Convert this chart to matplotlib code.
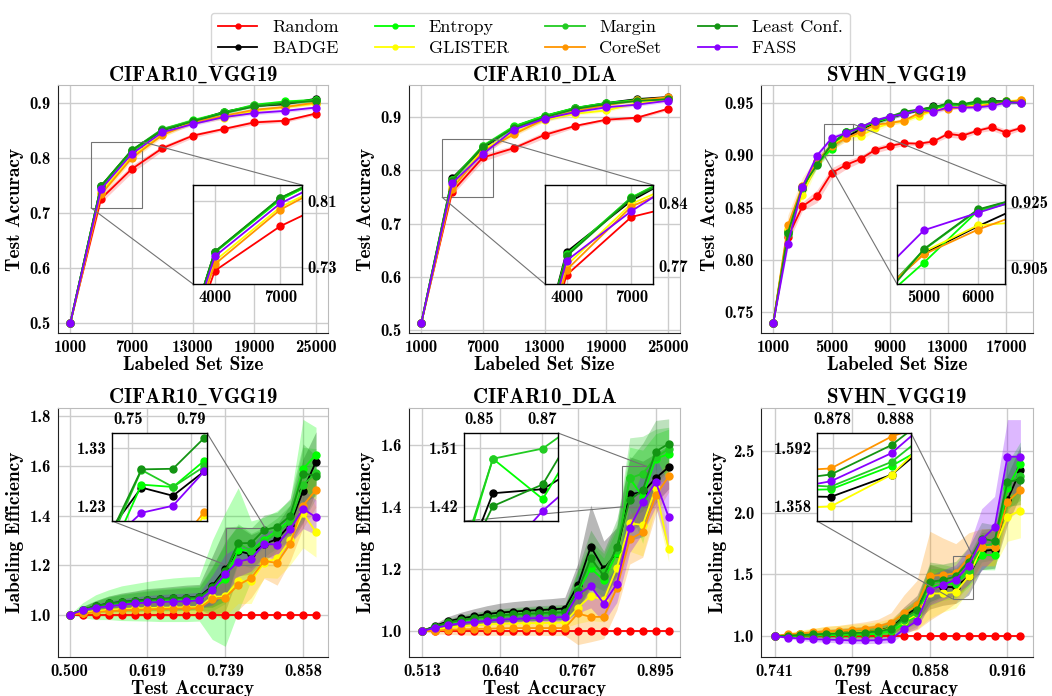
import matplotlib
matplotlib.use("Agg")
import numpy as np
import matplotlib.pyplot as plt
from mpl_toolkits.axes_grid1.inset_locator import mark_inset

plt.rcParams['font.family'] = 'cmb10'
plt.rcParams['mathtext.fontset'] = 'cm'
plt.rcParams['axes.unicode_minus'] = False

W, H = 1052, 696

methods = ["Random", "BADGE", "Entropy", "GLISTER", "Margin", "CoreSet", "Least Conf.", "FASS"]
colors = {"Random": "#ff0000", "BADGE": "#000000", "Entropy": "#00ff00", "GLISTER": "#ffff00",
          "Margin": "#22cc22", "CoreSet": "#ff9500", "Least Conf.": "#139413", "FASS": "#8800ff"}

# ---- test accuracy vs labeled set size ----
sizes_cifar = [1000, 4000, 7000, 10000, 13000, 16000, 19000, 22000, 25000]
sizes_svhn = [1000, 2000, 3000, 4000, 5000, 6000, 7000, 8000, 9000, 10000,
              11000, 12000, 13000, 14000, 15000, 16000, 17000, 18000]

acc_vgg = {
    "Random":      [0.500, 0.726, 0.780, 0.818, 0.841, 0.853, 0.865, 0.868, 0.881],
    "BADGE":       [0.500, 0.749, 0.813, 0.851, 0.867, 0.884, 0.895, 0.898, 0.908],
    "Entropy":     [0.500, 0.748, 0.812, 0.852, 0.869, 0.883, 0.897, 0.903, 0.906],
    "GLISTER":     [0.500, 0.738, 0.803, 0.843, 0.866, 0.873, 0.886, 0.893, 0.899],
    "Margin":      [0.500, 0.749, 0.814, 0.853, 0.868, 0.882, 0.896, 0.901, 0.905],
    "CoreSet":     [0.500, 0.734, 0.800, 0.842, 0.865, 0.877, 0.888, 0.893, 0.901],
    "Least Conf.": [0.500, 0.749, 0.8144, 0.851, 0.867, 0.882, 0.894, 0.900, 0.904],
    "FASS":        [0.500, 0.7435, 0.8076, 0.847, 0.862, 0.8745, 0.882, 0.886, 0.892],
}
acc_vgg_std = {
    "Random":      [0.0, 0.007, 0.007, 0.005, 0.004, 0.003, 0.004, 0.003, 0.003],
    "BADGE":       [0.0, 0.004, 0.004, 0.003, 0.003, 0.002, 0.002, 0.002, 0.002],
    "Entropy":     [0.0, 0.006, 0.005, 0.004, 0.004, 0.003, 0.003, 0.003, 0.003],
    "GLISTER":     [0.0, 0.006, 0.005, 0.004, 0.004, 0.003, 0.003, 0.003, 0.003],
    "Margin":      [0.0, 0.005, 0.004, 0.003, 0.003, 0.003, 0.002, 0.002, 0.002],
    "CoreSet":     [0.0, 0.006, 0.005, 0.004, 0.003, 0.003, 0.003, 0.003, 0.003],
    "Least Conf.": [0.0, 0.005, 0.004, 0.003, 0.003, 0.002, 0.002, 0.002, 0.002],
    "FASS":        [0.0, 0.004, 0.004, 0.003, 0.003, 0.003, 0.003, 0.003, 0.003],
}

acc_dla = {
    "Random":      [0.513, 0.760, 0.8245, 0.842, 0.867, 0.884, 0.8956, 0.8994, 0.916],
    "BADGE":       [0.513, 0.7856, 0.8425, 0.8824, 0.9025, 0.9176, 0.927, 0.9345, 0.9383],
    "Entropy":     [0.513, 0.783, 0.8462, 0.883, 0.903, 0.918, 0.927, 0.933, 0.936],
    "GLISTER":     [0.513, 0.7707, 0.839, 0.871, 0.895, 0.907, 0.913, 0.927, 0.933],
    "Margin":      [0.513, 0.782, 0.846, 0.881, 0.901, 0.917, 0.926, 0.932, 0.935],
    "CoreSet":     [0.513, 0.7657, 0.836, 0.868, 0.897, 0.912, 0.923, 0.932, 0.938],
    "Least Conf.": [0.513, 0.781, 0.845, 0.880, 0.900, 0.916, 0.925, 0.931, 0.934],
    "FASS":        [0.513, 0.776, 0.831, 0.8768, 0.8975, 0.910, 0.919, 0.924, 0.9314],
}
acc_dla_std = {
    "Random":      [0.0, 0.006, 0.007, 0.005, 0.006, 0.003, 0.003, 0.003, 0.003],
    "BADGE":       [0.0, 0.004, 0.004, 0.003, 0.003, 0.002, 0.002, 0.002, 0.002],
    "Entropy":     [0.0, 0.005, 0.005, 0.004, 0.003, 0.003, 0.003, 0.002, 0.002],
    "GLISTER":     [0.0, 0.005, 0.005, 0.004, 0.004, 0.003, 0.003, 0.003, 0.002],
    "Margin":      [0.0, 0.005, 0.004, 0.003, 0.003, 0.003, 0.002, 0.002, 0.002],
    "CoreSet":     [0.0, 0.006, 0.005, 0.004, 0.004, 0.003, 0.003, 0.002, 0.002],
    "Least Conf.": [0.0, 0.005, 0.004, 0.003, 0.003, 0.003, 0.002, 0.002, 0.002],
    "FASS":        [0.0, 0.005, 0.005, 0.004, 0.005, 0.004, 0.003, 0.003, 0.003],
}

acc_svhn = {
    "Random":      [0.740, 0.822, 0.8513, 0.861, 0.8831, 0.891, 0.8967, 0.9054, 0.9092,
                    0.9118, 0.9113, 0.9134, 0.9207, 0.919, 0.9236, 0.927, 0.922, 0.9263],
    "BADGE":       [0.740, 0.828, 0.868, 0.894, 0.9093, 0.9175, 0.925, 0.931, 0.936,
                    0.940, 0.943, 0.947, 0.948, 0.948, 0.951, 0.952, 0.952, 0.952],
    "Entropy":     [0.740, 0.827, 0.869, 0.892, 0.9065, 0.9222, 0.926, 0.932, 0.936,
                    0.941, 0.943, 0.945, 0.948, 0.948, 0.950, 0.951, 0.950, 0.951],
    "GLISTER":     [0.740, 0.830, 0.862, 0.893, 0.9098, 0.9178, 0.919, 0.926, 0.931,
                    0.933, 0.938, 0.943, 0.946, 0.947, 0.948, 0.950, 0.952, 0.953],
    "Margin":      [0.740, 0.825, 0.869, 0.893, 0.9104, 0.9224, 0.927, 0.932, 0.937,
                    0.940, 0.944, 0.946, 0.949, 0.948, 0.950, 0.951, 0.951, 0.952],
    "CoreSet":     [0.740, 0.8331, 0.871, 0.8943, 0.909, 0.9165, 0.9225, 0.9295, 0.931,
                    0.9335, 0.9405, 0.943, 0.9447, 0.946, 0.947, 0.949, 0.951, 0.953],
    "Least Conf.": [0.740, 0.826, 0.870, 0.891, 0.9106, 0.9226, 0.927, 0.933, 0.937,
                    0.942, 0.944, 0.946, 0.950, 0.949, 0.952, 0.951, 0.952, 0.950],
    "FASS":        [0.740, 0.8156, 0.870, 0.8999, 0.9163, 0.9216, 0.9268, 0.9335, 0.9373,
                    0.9395, 0.9443, 0.9417, 0.9462, 0.9459, 0.946, 0.9475, 0.9506, 0.9506],
}
acc_svhn_std = {
    "Random":      [0.0, 0.006, 0.004, 0.006, 0.005, 0.004, 0.003, 0.003, 0.003,
                    0.002, 0.002, 0.002, 0.003, 0.003, 0.002, 0.003, 0.003, 0.002],
    "BADGE":       [0.0, 0.004, 0.004, 0.003, 0.003, 0.002, 0.002, 0.002, 0.002,
                    0.001, 0.001, 0.001, 0.001, 0.001, 0.001, 0.001, 0.001, 0.001],
    "Entropy":     [0.0, 0.005, 0.004, 0.004, 0.003, 0.003, 0.002, 0.002, 0.002,
                    0.002, 0.001, 0.001, 0.001, 0.001, 0.001, 0.001, 0.001, 0.001],
    "GLISTER":     [0.0, 0.006, 0.006, 0.005, 0.004, 0.004, 0.004, 0.003, 0.002,
                    0.002, 0.002, 0.001, 0.001, 0.001, 0.001, 0.001, 0.001, 0.001],
    "Margin":      [0.0, 0.005, 0.004, 0.003, 0.003, 0.002, 0.002, 0.002, 0.002,
                    0.001, 0.001, 0.001, 0.001, 0.001, 0.001, 0.001, 0.001, 0.001],
    "CoreSet":     [0.0, 0.010, 0.008, 0.005, 0.004, 0.003, 0.003, 0.002, 0.002,
                    0.002, 0.002, 0.001, 0.001, 0.001, 0.001, 0.001, 0.001, 0.001],
    "Least Conf.": [0.0, 0.005, 0.004, 0.003, 0.003, 0.002, 0.002, 0.002, 0.002,
                    0.001, 0.001, 0.001, 0.001, 0.001, 0.001, 0.001, 0.001, 0.001],
    "FASS":        [0.0, 0.005, 0.004, 0.003, 0.003, 0.002, 0.002, 0.002, 0.002,
                    0.002, 0.001, 0.002, 0.002, 0.001, 0.002, 0.002, 0.002, 0.001],
}

# ---- labeling efficiency vs test accuracy ----
acc_grid_vgg = [0.5000, 0.5199, 0.5398, 0.5597, 0.5796, 0.5995, 0.6194, 0.6393, 0.6592, 0.6791,
                0.6989, 0.7188, 0.7387, 0.7586, 0.7785, 0.7984, 0.8183, 0.8382, 0.8581, 0.8780]
acc_grid_dla = [0.5126, 0.5338, 0.5551, 0.5763, 0.5975, 0.6188, 0.6400, 0.6612, 0.6825, 0.7037,
                0.7249, 0.7461, 0.7674, 0.7886, 0.8098, 0.8311, 0.8523, 0.8735, 0.8948, 0.9160]
acc_grid_svhn = [0.7405, 0.7503, 0.7600, 0.7698, 0.7796, 0.7893, 0.7991, 0.8088, 0.8186, 0.8284,
                 0.8381, 0.8479, 0.8577, 0.8674, 0.8772, 0.8869, 0.8967, 0.9065, 0.9162, 0.9260]

eff_vgg = {
    "Random":      [1.0, 1.0, 1.0, 1.0, 1.0, 1.0, 1.0, 1.0, 1.0, 1.0,
                    1.0, 1.0, 1.0, 1.0, 1.0, 1.0, 1.0, 1.0, 1.0, 1.0],
    "BADGE":       [1.000, 1.020, 1.034, 1.045, 1.051, 1.055, 1.061, 1.063, 1.066, 1.069,
                    1.072, 1.116, 1.184, 1.257, 1.243, 1.285, 1.305, 1.362, 1.499, 1.618],
    "Entropy":     [1.000, 1.018, 1.030, 1.040, 1.046, 1.050, 1.054, 1.057, 1.060, 1.062,
                    1.064, 1.100, 1.142, 1.262, 1.258, 1.303, 1.339, 1.383, 1.588, 1.646],
    "GLISTER":     [1.000, 1.008, 1.015, 1.020, 1.023, 1.025, 1.027, 1.028, 1.029, 1.030,
                    1.031, 1.072, 1.074, 1.135, 1.135, 1.210, 1.227, 1.300, 1.410, 1.332],
    "Margin":      [1.000, 1.019, 1.032, 1.042, 1.048, 1.052, 1.057, 1.060, 1.062, 1.065,
                    1.067, 1.105, 1.165, 1.287, 1.258, 1.293, 1.330, 1.372, 1.525, 1.570],
    "CoreSet":     [1.000, 1.005, 1.010, 1.014, 1.017, 1.019, 1.021, 1.023, 1.024, 1.025,
                    1.026, 1.062, 1.069, 1.119, 1.148, 1.216, 1.209, 1.285, 1.440, 1.504],
    "Least Conf.": [1.000, 1.020, 1.034, 1.045, 1.051, 1.055, 1.060, 1.063, 1.066, 1.068,
                    1.070, 1.110, 1.175, 1.288, 1.289, 1.342, 1.353, 1.399, 1.569, 1.561],
    "FASS":        [1.000, 1.0175, 1.028, 1.034, 1.040, 1.045, 1.049, 1.051, 1.053, 1.054,
                    1.058, 1.099, 1.164, 1.214, 1.226, 1.285, 1.283, 1.345, 1.427, 1.393],
}
eff_vgg_std = {
    "BADGE":       [0.0, 0.012, 0.022, 0.030, 0.036, 0.040, 0.044, 0.046, 0.048, 0.050,
                    0.050, 0.120, 0.170, 0.100, 0.080, 0.060, 0.060, 0.080, 0.130, 0.120],
    "Entropy":     [0.0, 0.030, 0.050, 0.060, 0.070, 0.075, 0.080, 0.085, 0.088, 0.090,
                    0.090, 0.200, 0.270, 0.250, 0.120, 0.090, 0.080, 0.080, 0.200, 0.110],
    "GLISTER":     [0.0, 0.010, 0.018, 0.024, 0.028, 0.030, 0.032, 0.034, 0.035, 0.036,
                    0.036, 0.060, 0.080, 0.090, 0.090, 0.060, 0.080, 0.100, 0.140, 0.100],
    "Margin":      [0.0, 0.015, 0.025, 0.032, 0.036, 0.040, 0.043, 0.045, 0.047, 0.048,
                    0.050, 0.090, 0.120, 0.080, 0.070, 0.060, 0.060, 0.070, 0.150, 0.100],
    "CoreSet":     [0.0, 0.010, 0.016, 0.020, 0.024, 0.026, 0.028, 0.030, 0.031, 0.032,
                    0.032, 0.060, 0.090, 0.100, 0.080, 0.070, 0.090, 0.070, 0.090, 0.070],
    "Least Conf.": [0.0, 0.012, 0.020, 0.026, 0.030, 0.033, 0.035, 0.037, 0.038, 0.040,
                    0.040, 0.080, 0.120, 0.070, 0.060, 0.060, 0.060, 0.070, 0.120, 0.080],
    "FASS":        [0.0, 0.010, 0.016, 0.020, 0.024, 0.026, 0.028, 0.030, 0.031, 0.032,
                    0.032, 0.060, 0.080, 0.060, 0.050, 0.050, 0.060, 0.060, 0.080, 0.070],
}

eff_dla = {
    "Random":      [1.0, 1.0, 1.0, 1.0, 1.0, 1.0, 1.0, 1.0, 1.0, 1.0,
                    1.0, 1.0, 1.0, 1.0, 1.0, 1.0, 1.0, 1.0, 1.0, 1.0],
    "BADGE":       [1.000, 1.017, 1.032, 1.041, 1.048, 1.055, 1.060, 1.063, 1.066, 1.068,
                    1.070, 1.073, 1.148, 1.272, 1.200, 1.253, 1.441, 1.447, 1.492, 1.528],
    "Entropy":     [1.000, 1.013, 1.025, 1.033, 1.039, 1.044, 1.048, 1.051, 1.053, 1.055,
                    1.057, 1.058, 1.127, 1.202, 1.165, 1.250, 1.492, 1.4325, 1.555, 1.570],
    "GLISTER":     [1.000, 1.005, 1.012, 1.016, 1.019, 1.022, 1.024, 1.025, 1.026, 1.026,
                    1.027, 1.028, 1.075, 1.114, 1.100, 1.204, 1.347, 1.342, 1.460, 1.263],
    "Margin":      [1.000, 1.014, 1.026, 1.034, 1.040, 1.045, 1.049, 1.052, 1.054, 1.056,
                    1.058, 1.059, 1.135, 1.220, 1.190, 1.262, 1.492, 1.507, 1.560, 1.586],
    "CoreSet":     [1.000, 1.001, 1.005, 1.006, 1.007, 1.008, 1.009, 1.010, 1.010, 1.010,
                    1.010, 1.010, 1.057, 1.046, 1.046, 1.138, 1.296, 1.318, 1.437, 1.498],
    "Least Conf.": [1.000, 1.015, 1.028, 1.036, 1.042, 1.047, 1.051, 1.054, 1.056, 1.058,
                    1.060, 1.061, 1.130, 1.235, 1.178, 1.270, 1.422, 1.454, 1.578, 1.603],
    "FASS":        [1.000, 1.011, 1.019, 1.026, 1.030, 1.033, 1.037, 1.039, 1.041, 1.042,
                    1.043, 1.046, 1.118, 1.145, 1.089, 1.152, 1.333, 1.415, 1.480, 1.367],
}
eff_dla_std = {
    "BADGE":       [0.0, 0.008, 0.015, 0.020, 0.024, 0.027, 0.030, 0.032, 0.033, 0.034,
                    0.035, 0.036, 0.070, 0.134, 0.090, 0.080, 0.120, 0.100, 0.080, 0.070],
    "Entropy":     [0.0, 0.006, 0.010, 0.013, 0.015, 0.017, 0.018, 0.019, 0.020, 0.020,
                    0.021, 0.021, 0.060, 0.080, 0.070, 0.080, 0.100, 0.150, 0.080, 0.080],
    "GLISTER":     [0.0, 0.005, 0.008, 0.010, 0.012, 0.013, 0.014, 0.015, 0.015, 0.016,
                    0.016, 0.016, 0.050, 0.080, 0.070, 0.060, 0.090, 0.100, 0.060, 0.040],
    "Margin":      [0.0, 0.006, 0.010, 0.013, 0.015, 0.017, 0.018, 0.019, 0.020, 0.020,
                    0.021, 0.021, 0.060, 0.070, 0.060, 0.080, 0.130, 0.120, 0.090, 0.070],
    "CoreSet":     [0.0, 0.010, 0.015, 0.018, 0.020, 0.021, 0.022, 0.023, 0.023, 0.023,
                    0.024, 0.024, 0.100, 0.080, 0.070, 0.070, 0.080, 0.080, 0.060, 0.050],
    "Least Conf.": [0.0, 0.007, 0.012, 0.015, 0.018, 0.020, 0.021, 0.022, 0.023, 0.024,
                    0.024, 0.025, 0.070, 0.090, 0.080, 0.090, 0.130, 0.150, 0.100, 0.080],
    "FASS":        [0.0, 0.005, 0.008, 0.010, 0.012, 0.013, 0.014, 0.015, 0.015, 0.016,
                    0.016, 0.017, 0.060, 0.070, 0.060, 0.060, 0.080, 0.100, 0.080, 0.110],
}

eff_svhn = {
    "Random":      [1.0, 1.0, 1.0, 1.0, 1.0, 1.0, 1.0, 1.0, 1.0, 1.0,
                    1.0, 1.0, 1.0, 1.0, 1.0, 1.0, 1.0, 1.0, 1.0, 1.0],
    "BADGE":       [1.000, 1.010, 1.015, 1.020, 1.025, 1.030, 1.033, 1.036, 1.045, 1.070,
                    1.157, 1.230, 1.400, 1.400, 1.396, 1.484, 1.689, 1.700, 2.103, 2.341],
    "Entropy":     [1.000, 1.000, 1.003, 1.006, 1.008, 1.010, 1.012, 1.014, 1.020, 1.040,
                    1.100, 1.170, 1.395, 1.420, 1.426, 1.519, 1.657, 1.657, 2.200, 2.392],
    "GLISTER":     [1.000, 1.010, 1.015, 1.020, 1.025, 1.028, 1.032, 1.035, 1.042, 1.065,
                    1.120, 1.176, 1.346, 1.346, 1.358, 1.484, 1.720, 1.720, 1.968, 2.016],
    "Margin":      [1.000, 1.003, 1.008, 1.012, 1.016, 1.020, 1.023, 1.025, 1.033, 1.050,
                    1.130, 1.190, 1.420, 1.450, 1.437, 1.535, 1.730, 1.750, 2.230, 2.300],
    "CoreSet":     [1.000, 1.016, 1.022, 1.032, 1.041, 1.043, 1.054, 1.062, 1.078, 1.111,
                    1.184, 1.251, 1.489, 1.495, 1.509, 1.636, 1.719, 1.719, 2.087, 2.184],
    "Least Conf.": [1.000, 1.005, 1.010, 1.015, 1.020, 1.024, 1.027, 1.030, 1.040, 1.060,
                    1.150, 1.210, 1.440, 1.454, 1.485, 1.602, 1.790, 1.770, 2.251, 2.265],
    "FASS":        [1.000, 0.989, 0.981, 0.976, 0.973, 0.970, 0.966, 0.966, 0.968, 0.976,
                    1.057, 1.124, 1.373, 1.414, 1.458, 1.570, 1.781, 1.881, 2.452, 2.452],
}
eff_svhn_std = {
    "BADGE":       [0.0, 0.010, 0.020, 0.025, 0.030, 0.035, 0.040, 0.045, 0.050, 0.060,
                    0.080, 0.100, 0.180, 0.150, 0.130, 0.150, 0.150, 0.150, 0.200, 0.200],
    "Entropy":     [0.0, 0.008, 0.015, 0.020, 0.025, 0.030, 0.035, 0.040, 0.045, 0.050,
                    0.070, 0.090, 0.150, 0.130, 0.120, 0.120, 0.120, 0.120, 0.200, 0.180],
    "GLISTER":     [0.0, 0.020, 0.035, 0.045, 0.055, 0.060, 0.065, 0.070, 0.075, 0.080,
                    0.100, 0.120, 0.200, 0.150, 0.130, 0.120, 0.150, 0.150, 0.200, 0.220],
    "Margin":      [0.0, 0.010, 0.018, 0.024, 0.030, 0.034, 0.038, 0.042, 0.046, 0.050,
                    0.070, 0.090, 0.160, 0.130, 0.120, 0.120, 0.130, 0.130, 0.200, 0.200],
    "CoreSet":     [0.0, 0.010, 0.020, 0.030, 0.040, 0.045, 0.050, 0.055, 0.060, 0.080,
                    0.150, 0.200, 0.360, 0.300, 0.240, 0.200, 0.150, 0.150, 0.150, 0.150],
    "Least Conf.": [0.0, 0.010, 0.018, 0.024, 0.030, 0.034, 0.038, 0.042, 0.046, 0.050,
                    0.070, 0.090, 0.160, 0.130, 0.120, 0.120, 0.130, 0.130, 0.200, 0.200],
    "FASS":        [0.0, 0.010, 0.015, 0.020, 0.022, 0.024, 0.026, 0.026, 0.026, 0.028,
                    0.040, 0.060, 0.120, 0.120, 0.120, 0.150, 0.250, 0.250, 0.300, 0.300],
}


def px_axes(fig, left, top, right, bottom):
    # axes placed by pixel box (left, top, right, bottom)
    return fig.add_axes([left / W, 1 - bottom / H, (right - left) / W, (bottom - top) / H])


def style(ax):
    ax.grid(True, color="#cccccc", lw=1.0)
    ax.set_axisbelow(True)
    ax.tick_params(length=0, pad=5, labelsize=12)
    for s in ["left", "bottom"]:
        ax.spines[s].set_color("#222222")
    for s in ["top", "right"]:
        ax.spines[s].set_color("#bbbbbb")


def draw_series(ax, x, mean, std=None, alpha=0.2):
    for m in methods:
        y = np.array(mean[m])
        if std is not None and m in std:
            s = np.array(std[m])
            ax.fill_between(x, y - s, y + s, color=colors[m], alpha=alpha, lw=0)
        ax.plot(x, y, "-o", color=colors[m], ms=5, lw=1.3, label=m)


def zoom_box(fig, ax, box, x, mean, xlim, ylim, xticks, xlabels, yticks, ylabels, labels_top):
    axins = px_axes(fig, *box)
    draw_series(axins, x, mean)
    axins.set_xlim(xlim)
    axins.set_ylim(ylim)
    axins.set_xticks(xticks)
    axins.set_xticklabels(xlabels)
    axins.set_yticks(yticks)
    axins.set_yticklabels(ylabels)
    axins.grid(True, color="#cccccc", lw=1.0)
    axins.tick_params(length=0, pad=4, labelsize=12)
    if labels_top:
        axins.xaxis.tick_top()
    else:
        axins.yaxis.tick_right()
    for s in axins.spines.values():
        s.set_color("black")
        s.set_linewidth(1.0)
    mark_inset(ax, axins, loc1=1, loc2=3, fc="none", ec="0.45", lw=0.8)
    return axins


def panel_title(name):
    # underscore goes through mathtext, the rest stays in the bold text font
    left, right = name.split("_")
    return left + r"$\_$" + right


fig = plt.figure(figsize=(W / 100, H / 100), dpi=100)

cols = [(58, 328), (409, 680), (761, 1033)]
top_y = (85, 333)
bot_y = (408, 657)

# top row: accuracy curves
panels_top = [
    ("CIFAR10_VGG19", sizes_cifar, acc_vgg, acc_vgg_std, (-200, 26200), (0.482, 0.933),
     [1000, 7000, 13000, 19000, 25000], [0.5, 0.6, 0.7, 0.8, 0.9], "{:.1f}",
     (193, 185, 302, 284), (3000, 8000), (0.71, 0.83), [4000, 7000], [0.73, 0.81], "{:.2f}"),
    ("CIFAR10_DLA", sizes_cifar, acc_dla, acc_dla_std, (-200, 26200), (0.494, 0.961),
     [1000, 7000, 13000, 19000, 25000], [0.5, 0.6, 0.7, 0.8, 0.9], "{:.1f}",
     (545, 185, 653, 284), (3000, 8000), (0.75, 0.86), [4000, 7000], [0.77, 0.84], "{:.2f}"),
    ("SVHN_VGG19", sizes_svhn, acc_svhn, acc_svhn_std, (150, 18850), (0.730, 0.9675),
     [1000, 5000, 9000, 13000, 17000], [0.75, 0.80, 0.85, 0.90, 0.95], "{:.2f}",
     (897, 185, 1005, 284), (4500, 6500), (0.90, 0.93), [5000, 6000], [0.905, 0.925], "{:.3f}"),
]

for (l, r), p in zip(cols, panels_top):
    (title, x, mean, std, xlim, ylim, xt, yt, yfmt,
     box, ixlim, iylim, ixt, iyt, iyfmt) = p
    ax = px_axes(fig, l, top_y[0], r, top_y[1])
    draw_series(ax, x, mean, std, alpha=0.2)
    ax.set_xlim(xlim)
    ax.set_ylim(ylim)
    ax.set_xticks(xt)
    ax.set_xticklabels([str(v) for v in xt])
    ax.set_yticks(yt)
    ax.set_yticklabels([yfmt.format(v) for v in yt])
    style(ax)
    ax.set_title(panel_title(title), fontsize=15, pad=3)
    ax.set_xlabel("Labeled Set Size", fontsize=14, labelpad=1)
    ax.set_ylabel("Test Accuracy", fontsize=14, labelpad=4)
    zoom_box(fig, ax, box, x, mean, ixlim, iylim, ixt, [str(v) for v in ixt],
             iyt, [iyfmt.format(v) for v in iyt], labels_top=False)

# bottom row: labeling efficiency
panels_bot = [
    ("CIFAR10_VGG19", acc_grid_vgg, eff_vgg, eff_vgg_std, (0.4821, 0.8964), (0.829, 1.834),
     [1.0, 1.2, 1.4, 1.6, 1.8], "{:.1f}",
     (112, 433, 207, 521), (0.74, 0.80), (1.20, 1.35), ["0.75", "0.79"], ["1.23", "1.33"]),
    ("CIFAR10_DLA", acc_grid_dla, eff_dla, eff_dla_std, (0.4913, 0.9345), (0.917, 1.718),
     [1.0, 1.2, 1.4, 1.6], "{:.1f}",
     (464, 433, 558, 521), (0.84, 0.88), (1.40, 1.53), ["0.85", "0.87"], ["1.42", "1.51"]),
    ("SVHN_VGG19", acc_grid_svhn, eff_svhn, eff_svhn_std, (0.7302, 0.9355), (0.832, 2.846),
     [1.0, 1.5, 2.0, 2.5], "{:.1f}",
     (817, 433, 911, 521), (0.875, 0.890), (1.30, 1.65), ["0.878", "0.888"], ["1.358", "1.592"]),
]

for (l, r), p in zip(cols, panels_bot):
    (title, x, mean, std, xlim, ylim, yt, yfmt,
     box, ixlim, iylim, ixl, iyl) = p
    ax = px_axes(fig, l, bot_y[0], r, bot_y[1])
    draw_series(ax, x, mean, std, alpha=0.28)
    ax.set_xlim(xlim)
    ax.set_ylim(ylim)
    xt = [x[0], x[6], x[12], x[18]]
    ax.set_xticks(xt)
    ax.set_xticklabels(["{:.3f}".format(v) for v in xt])
    ax.set_yticks(yt)
    ax.set_yticklabels([yfmt.format(v) for v in yt])
    style(ax)
    ax.set_title(panel_title(title), fontsize=15, pad=4)
    ax.set_xlabel("Test Accuracy", fontsize=14, labelpad=1)
    ax.set_ylabel("Labeling Efficiency", fontsize=14, labelpad=4)
    ixt = [ixlim[0] + (ixlim[1] - ixlim[0]) / 6, ixlim[0] + (ixlim[1] - ixlim[0]) * 5 / 6]
    iyt = [iylim[0] + (iylim[1] - iylim[0]) / 6, iylim[0] + (iylim[1] - iylim[0]) * 5 / 6]
    zoom_box(fig, ax, box, x, mean, ixlim, iylim, ixt, ixl, iyt, iyl, labels_top=True)

handles, labels = fig.axes[0].get_legend_handles_labels()
fig.legend(handles, labels, loc="upper center", bbox_to_anchor=(0.504, 0.995), ncol=4,
           prop={"family": "cmr10", "size": 13}, markerscale=0.7, handlelength=2.2,
           handletextpad=0.8, columnspacing=2.0, labelspacing=0.3, borderpad=0.4,
           frameon=True, edgecolor="#cccccc", fancybox=True)

fig.savefig("out.png", dpi=100)
